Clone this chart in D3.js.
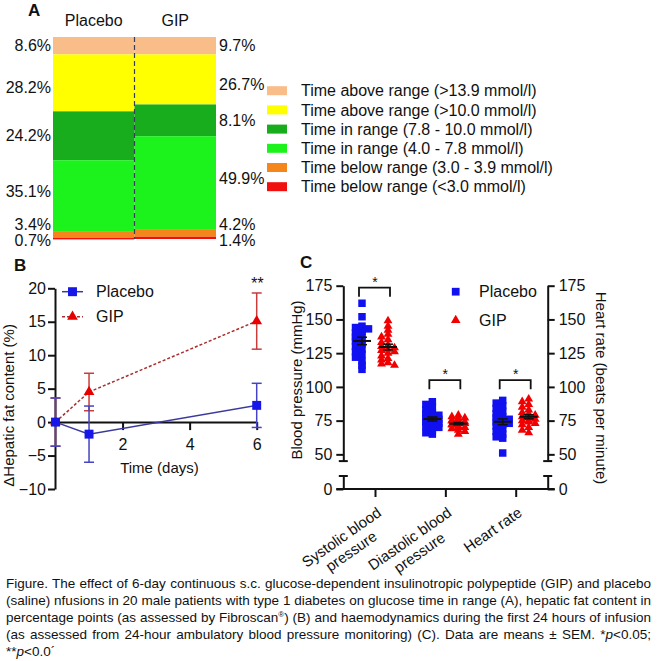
<!DOCTYPE html>
<html><head><meta charset="utf-8">
<script src="https://cdn.jsdelivr.net/npm/d3@7"></script>
<style>
body{margin:0;background:#fff}
svg{display:block}
text{font-family:"Liberation Sans",Arial,sans-serif;fill:#111}
</style>
</head><body>
<svg id="fig" width="657" height="661"></svg>
<script>
// ---------------- DATA ----------------
// Panel A
const groupsA = ["Placebo", "GIP"];
const rangeNames = [
  "Time above range (>13.9 mmol/l)",
  "Time above range (>10.0 mmol/l)",
  "Time in range (7.8 - 10.0 mmol/l)",
  "Time in range (4.0 - 7.8 mmol/l)",
  "Time below range (3.0 - 3.9 mmol/l)",
  "Time below range (<3.0 mmol/l)"
];
const rangeColors = ["#f8bd89", "#ffff00", "#18ad1c", "#1cf21c", "#f5861c", "#f01010"];
const placeboShare = [8.6, 28.2, 24.2, 35.1, 3.4, 0.7];   // drawn heights (%)
const gipShare = [8.6, 24.8, 15.7, 46.0, 3.8, 1.1];       // drawn heights (%), as in picture
const placeboLabels = ["8.6%", "28.2%", "24.2%", "35.1%", "3.4%", "0.7%"];
const gipLabels = ["9.7%", "26.7%", "8.1%", "49.9%", "4.2%", "1.4%"];

// Panel B
const days = [0, 1, 6];
const hepPlacebo = [0, -1.8, 2.5];
const hepPlaceboSem = [3.6, 4.2, 3.3];
const hepGip = [0, 4.5, 15.1];
const hepGipSem = [3.6, 2.8, 4.2];
const bYTicks = [-10, -5, 0, 5, 10, 15, 20];
const bXTicks = [2, 4, 6];

// Panel C
const categoriesC = ["Systolic blood pressure", "Diastolic blood pressure", "Heart rate"];
const categoryLines = [["Systolic blood", "pressure"], ["Diastolic blood", "pressure"], ["Heart rate"]];
const sysPlacebo = [162,152,145,144,143,141,140,138,137,135,134,132,130,128,126,124,122,119,116,113];
const sysGip = [149,145,142,139,137,135,133,131,130,129,128,127,126,125,123,121,120,118,117,116];
const diaPlacebo = [89,87,85,83,81,80,79,78,77,76,75,75,74,73,72,71,70,68,66,65];
const diaGip = [79,78,77,77,76,75,75,74,74,73,73,72,72,71,70,70,69,68,67,65];
const hrPlacebo = [90,88,86,84,82,80,78,77,76,75,74,73,72,71,69,67,65,63,62,51];
const hrGip = [91,89,87,85,83,81,80,79,78,78,77,76,75,75,74,73,72,70,68,66];
const cTicksUpper = [50, 75, 100, 125, 150, 175];
const cTicksLower = [0];
const sigLevels = [173.5, 105, 105];

const captionLines = [
  [["Figure. The effect of 6-day continuous s.c. glucose-dependent insulinotropic polypeptide (GIP) and placebo", ""]],
  [["(saline) nfusions in 20 male patients with type 1 diabetes on glucose time in range (A), hepatic fat content in", ""]],
  [["percentage points (as assessed by Fibroscan", ""], ["®", "sup"], [") (B) and haemodynamics during the first 24 hours of infusion", ""]],
  [["(as assessed from 24-hour ambulatory blood pressure monitoring) (C). Data are means ± SEM. *", ""], ["p", "i"], ["<0.05;", ""]],
  [["**", ""], ["p", "i"], ["<0.0´", ""]]
];

// ---------------- DRAW ----------------
const svg = d3.select("#fig");
const blue = "#1010f0", red = "#f00000";

// ===== Panel A =====
const gA = svg.append("g");
gA.append("text").attr("x", 28).attr("y", 16).attr("font-size", 17).attr("font-weight", "bold").text("A");
const xA = d3.scaleBand().domain(groupsA).range([53, 216]).padding(0);
const yA = d3.scaleLinear().domain([0, 100]).range([37, 239]);

function stackOf(vals) {
  let c = 0;
  return vals.map((v, i) => { const s = {i, y0: c, y1: c + v}; c += v; return s; });
}
const stacks = {Placebo: stackOf(placeboShare), GIP: stackOf(gipShare)};
groupsA.forEach(gname => {
  gA.selectAll(null).data(stacks[gname]).enter().append("rect")
    .attr("x", xA(gname)).attr("width", xA.bandwidth())
    .attr("y", d => yA(d.y0)).attr("height", d => yA(d.y1) - yA(d.y0))
    .attr("fill", d => rangeColors[d.i]);
  gA.append("text").attr("x", xA(gname) + xA.bandwidth() / 2).attr("y", 26)
    .attr("text-anchor", "middle").attr("font-size", 16).text(gname);
});
gA.append("line").attr("x1", xA("GIP")).attr("x2", xA("GIP"))
  .attr("y1", yA(0)).attr("y2", yA(100))
  .attr("stroke", "#3c3c5a").attr("stroke-width", 1.2).attr("stroke-dasharray", "5,3");

function labelY(d) {
  if (d.i === 4) return yA(100) - 15;
  if (d.i === 5) return yA(100) + 1;
  if (d.i === 3) return yA((d.y0 + d.y1) / 2) - 4;
  return yA((d.y0 + d.y1) / 2) + (d.i === 1 ? 5 : 0);
}
gA.selectAll(null).data(stacks.Placebo).enter().append("text")
  .attr("x", xA("Placebo") - 2).attr("y", labelY).attr("dy", "0.35em")
  .attr("text-anchor", "end").attr("font-size", 16).text(d => placeboLabels[d.i]);
gA.selectAll(null).data(stacks.GIP).enter().append("text")
  .attr("x", xA("GIP") + xA.bandwidth() + 3).attr("y", labelY).attr("dy", "0.35em")
  .attr("text-anchor", "start").attr("font-size", 16).text(d => gipLabels[d.i]);

const legA = gA.selectAll(null).data(rangeNames).enter().append("g")
  .attr("transform", (d, i) => `translate(267,${90.7 + i * 19.2})`);
legA.append("rect").attr("x", 0).attr("y", -4.5).attr("width", 20).attr("height", 9)
  .attr("fill", (d, i) => rangeColors[i]);
legA.append("text").attr("x", 34).attr("dy", "0.35em").attr("font-size", 16).text(d => d);

// ===== Panel B =====
const gB = svg.append("g");
gB.append("text").attr("x", 14).attr("y", 271).attr("font-size", 17).attr("font-weight", "bold").text("B");
const xB = d3.scaleLinear().domain([0, 6]).range([55.5, 256.7]);
const yB = d3.scaleLinear().domain([-10, 20]).range([489, 288.3]);

const axBY = gB.append("g").attr("transform", "translate(55,0)")
  .call(d3.axisLeft(yB).tickValues(bYTicks).tickSize(7).tickSizeOuter(0).tickPadding(2));
const axBX = gB.append("g").attr("transform", `translate(0,${yB(0)})`)
  .call(d3.axisBottom(xB).tickValues(bXTicks).tickFormat(d3.format("d")).tickSize(8).tickSizeOuter(0).tickPadding(9));
[axBY, axBX].forEach(a => {
  a.selectAll("path,line").attr("stroke", "#111").attr("stroke-width", 2);
  a.selectAll("text").attr("font-size", 16).attr("font-family", "Liberation Sans, Arial, sans-serif").attr("fill", "#111");
});
gB.append("text").attr("x", xB(3.1)).attr("y", 473).attr("text-anchor", "middle").attr("font-size", 15).text("Time (days)");
gB.append("text").attr("transform", `translate(14,${yB(2.5)}) rotate(-90)`)
  .attr("text-anchor", "middle").attr("font-size", 15).text("ΔHepatic fat content (%)");

function drawSeries(vals, sems, color, lineColor, errColor, dash, symbol, symSize) {
  const pts = days.map((d, i) => ({d, v: vals[i], s: sems[i]}));
  const eb = gB.append("g").attr("stroke", errColor).attr("stroke-width", 1.5);
  pts.forEach(p => {
    eb.append("line").attr("x1", xB(p.d)).attr("x2", xB(p.d)).attr("y1", yB(p.v - p.s)).attr("y2", yB(p.v + p.s));
    [p.v - p.s, p.v + p.s].forEach(e => eb.append("line")
      .attr("x1", xB(p.d) - 5).attr("x2", xB(p.d) + 5).attr("y1", yB(e)).attr("y2", yB(e)));
  });
  gB.append("path").datum(pts).attr("fill", "none").attr("stroke", lineColor).attr("stroke-width", 1.5)
    .attr("stroke-dasharray", dash).attr("d", d3.line().x(p => xB(p.d)).y(p => yB(p.v)));
  gB.selectAll(null).data(pts).enter().append("path")
    .attr("transform", p => `translate(${xB(p.d)},${yB(p.v)})`)
    .attr("d", d3.symbol(symbol, symSize)).attr("fill", color);
}
drawSeries(hepGip, hepGipSem, "#e60000", "#a83030", "#c83c3c", "3,2", d3.symbolTriangle, 50);
drawSeries(hepPlacebo, hepPlaceboSem, "#1616e8", "#3a3a9e", "#4444c4", null, d3.symbolSquare, 80);
gB.append("text").attr("x", xB(6)).attr("y", 289).attr("text-anchor", "middle").attr("font-size", 16)
  .attr("font-style", "italic").text("**");

const legB = [
  {name: "Placebo", color: "#1616e8", line: "#3a3a9e", dash: null, sym: d3.symbolSquare, size: 80},
  {name: "GIP", color: "#e60000", line: "#a83030", dash: "3,2", sym: d3.symbolTriangle, size: 50}
];
legB.forEach((l, i) => {
  const y = 291.7 + i * 25;
  gB.append("line").attr("x1", 62).attr("x2", 83).attr("y1", y).attr("y2", y)
    .attr("stroke", l.line).attr("stroke-width", 1.5).attr("stroke-dasharray", l.dash);
  gB.append("path").attr("transform", `translate(72.5,${y})`).attr("d", d3.symbol(l.sym, l.size)).attr("fill", l.color);
  gB.append("text").attr("x", 96).attr("y", y).attr("dy", "0.35em").attr("font-size", 16).text(l.name);
});

// ===== Panel C =====
const gC = svg.append("g");
gC.append("text").attr("x", 300).attr("y", 268).attr("font-size", 17).attr("font-weight", "bold").text("C");
const leftX = 343.3, rightX = 547.7;
const yCU = d3.scaleLinear().domain([45, 175]).range([461.1, 285.7]);
const yCL = d3.scaleLinear().domain([0, 9.6]).range([489, 476]);
const xC = d3.scalePoint().domain(categoriesC).range([375, 515.7]);

function styleAxis(a) {
  a.selectAll("path,line").attr("stroke", "#111").attr("stroke-width", 2);
  a.selectAll("text").attr("font-size", 16).attr("font-family", "Liberation Sans, Arial, sans-serif").attr("fill", "#111");
}
[[yCU, cTicksUpper], [yCL, cTicksLower]].forEach(([sc, tv]) => {
  styleAxis(gC.append("g").attr("transform", `translate(${leftX},0)`)
    .call(d3.axisLeft(sc).tickValues(tv).tickSize(7).tickSizeOuter(0).tickPadding(4)));
  styleAxis(gC.append("g").attr("transform", `translate(${rightX},0)`)
    .call(d3.axisRight(sc).tickValues(tv).tickSize(7).tickSizeOuter(0).tickPadding(4)));
});
// break caps
[leftX, rightX].forEach(ax => {
  [yCU(45), yCL(9.6)].forEach(yy => gC.append("line").attr("x1", ax - 4.5).attr("x2", ax + 4.5)
    .attr("y1", yy).attr("y2", yy).attr("stroke", "#111").attr("stroke-width", 2));
});
// x axis
gC.append("line").attr("x1", leftX - 7).attr("x2", rightX + 7).attr("y1", yCL(0)).attr("y2", yCL(0))
  .attr("stroke", "#111").attr("stroke-width", 2);
const axCX = gC.append("g").attr("transform", `translate(0,${yCL(0)})`)
  .call(d3.axisBottom(xC).tickSize(8).tickSizeOuter(0).tickFormat(""));
axCX.select(".domain").remove();
styleAxis(axCX);

// category labels
categoriesC.forEach((c, i) => {
  const g = gC.append("g").attr("transform", `translate(${xC(c) + 1},${yCL(0) + 17}) rotate(-35)`);
  const t1 = g.append("text").attr("x", 0).attr("y", 11).attr("text-anchor", "end").attr("font-size", 15).text(categoryLines[i][0]);
  const w = t1.node().getComputedTextLength();
  if (categoryLines[i][1]) {
    g.append("text").attr("x", -w / 2).attr("y", 28).attr("text-anchor", "middle").attr("font-size", 15).text(categoryLines[i][1]);
  }
});

// axis titles
gC.append("text").attr("transform", `translate(302,380) rotate(-90)`).attr("text-anchor", "middle")
  .attr("font-size", 15).text("Blood pressure (mmHg)");
gC.append("text").attr("transform", `translate(596,388) rotate(90)`).attr("text-anchor", "middle")
  .attr("font-size", 15).text("Heart rate (beats per minute)");

// scatter layout (deterministic, compact, overlapping allowed)
function swarm(vals, cx) {
  const pts = vals.map(v => ({v, y: yCU(v)})).sort((a, b) => a.y - b.y);
  const placed = [];
  const cands = [0, -3.5, 3.5, -6.5, 6.5];
  pts.forEach(p => {
    let best = null, bestC = Infinity;
    cands.forEach(o => {
      const x = cx + o;
      const c = placed.filter(q => Math.abs(q.x - x) < 5 && Math.abs(q.y - p.y) < 4).length;
      if (c < bestC) { bestC = c; best = x; }
    });
    p.x = best; placed.push(p);
  });
  return placed;
}
const groupsC = [
  [sysPlacebo, sysGip], [diaPlacebo, diaGip], [hrPlacebo, hrGip]
];
groupsC.forEach(([pv, gv], i) => {
  const cx = xC(categoriesC[i]);
  const pcx = cx - 13, gcx = cx + 13;
  gC.selectAll(null).data(swarm(pv, pcx)).enter().append("path")
    .attr("transform", d => `translate(${d.x},${d.y})`).attr("d", d3.symbol(d3.symbolSquare, 56)).attr("fill", blue);
  gC.selectAll(null).data(swarm(gv, gcx)).enter().append("path")
    .attr("transform", d => `translate(${d.x},${d.y})`).attr("d", d3.symbol(d3.symbolTriangle, 34)).attr("fill", red);
  [[pv, pcx], [gv, gcx]].forEach(([vals, x]) => {
    const m = d3.mean(vals), s = d3.deviation(vals) / Math.sqrt(vals.length);
    const g = gC.append("g").attr("stroke", "#111").attr("stroke-width", 2);
    g.append("line").attr("x1", x - 9).attr("x2", x + 9).attr("y1", yCU(m)).attr("y2", yCU(m));
    g.append("line").attr("x1", x).attr("x2", x).attr("y1", yCU(m - s)).attr("y2", yCU(m + s)).attr("stroke-width", 1.5);
    [m - s, m + s].forEach(e => g.append("line").attr("x1", x - 5).attr("x2", x + 5).attr("y1", yCU(e)).attr("y2", yCU(e)).attr("stroke-width", 1.5));
  });
  // significance bracket
  const top = yCU(sigLevels[i]);
  gC.append("path").attr("fill", "none").attr("stroke", "#111").attr("stroke-width", 1.8)
    .attr("d", `M${pcx - 3},${top + 9}V${top}H${gcx + 2}V${top + 9}`);
  gC.append("text").attr("x", (pcx + gcx) / 2).attr("y", top - 1).attr("text-anchor", "middle").attr("font-size", 14).text("*");
});

// legend C
[{n: "Placebo", s: d3.symbolSquare, z: 60, c: blue}, {n: "GIP", s: d3.symbolTriangle, z: 40, c: red}].forEach((l, i) => {
  const y = 291.7 + i * 28.5;
  gC.append("path").attr("transform", `translate(455.7,${y})`).attr("d", d3.symbol(l.s, l.z)).attr("fill", l.c);
  gC.append("text").attr("x", 479).attr("y", y).attr("dy", "0.35em").attr("font-size", 16).text(l.n);
});

// ===== Caption =====
const capG = svg.append("g");
captionLines.forEach((parts, i) => {
  const t = capG.append("text").attr("x", 6).attr("y", 588 + i * 17)
    .attr("font-size", 13.5).style("font-family", "'Liberation Sans Narrow','Arial Narrow','Liberation Sans',sans-serif");
  parts.forEach(([s, k], j) => {
    const ts = t.append("tspan").text(s);
    if (k === "i") ts.attr("font-style", "italic");
    if (k === "sup") ts.attr("font-size", 8).attr("dy", -5);
    if (j > 0 && parts[j - 1][1] === "sup") ts.attr("dy", 5);
  });
  if (i < 4) {
    const target = 645;
    const w = t.node().getComputedTextLength();
    const spaces = parts.map(p => p[0]).join("").split(" ").length - 1;
    if (w < target) t.attr("word-spacing", (target - w) / spaces);
    else t.attr("textLength", target).attr("lengthAdjust", "spacingAndGlyphs");
  }
});
</script>
</body></html>
